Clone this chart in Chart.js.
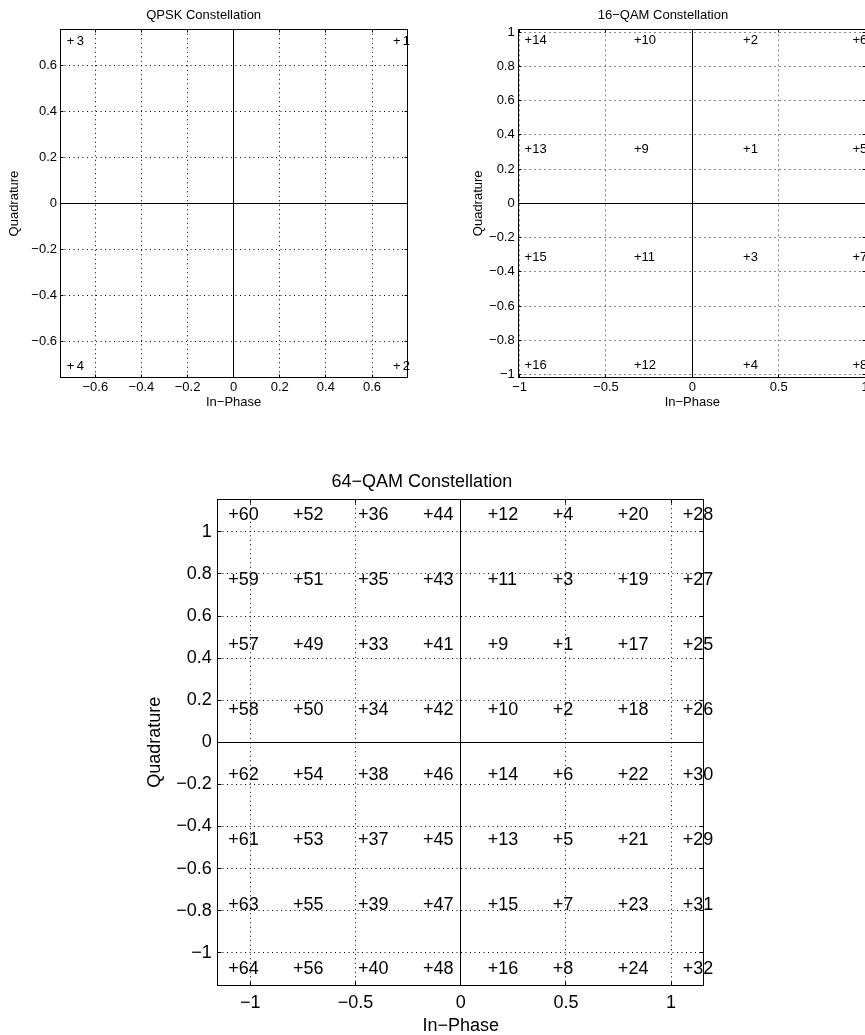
<!DOCTYPE html>
<html>
<head>
<meta charset="utf-8">
<script src="https://cdn.jsdelivr.net/npm/chart.js@4.4.1/dist/chart.umd.min.js"></script>
<style>
  html, body { margin: 0; padding: 0; background: #fff; }
  #page { position: relative; width: 865px; height: 1035px; overflow: hidden; background: #fff; }
  canvas { position: absolute; }
</style>
</head>
<body>
<div id="page">
  <canvas id="qpsk" width="420" height="415" style="left:0px;top:0px"></canvas>
  <canvas id="qam16" width="420" height="415" style="left:460px;top:0px"></canvas>
  <canvas id="qam64" width="600" height="580" style="left:140px;top:460px"></canvas>
</div>
<script>
// symbol k sits at (I[k-1], Q[k-1]); the label drawn is "+k"
var qpskI = [0.707, 0.707, -0.707, -0.707];
var qpskQ = [0.707, -0.707, 0.707, -0.707];
var qpskTicks = [-0.6, -0.4, -0.2, 0, 0.2, 0.4, 0.6];

var qam16I = [0.316, 0.316, 0.316, 0.316, 0.949, 0.949, 0.949, 0.949,
              -0.316, -0.316, -0.316, -0.316, -0.949, -0.949, -0.949, -0.949];
var qam16Q = [0.316, 0.949, -0.316, -0.949, 0.316, 0.949, -0.316, -0.949,
              0.316, 0.949, -0.316, -0.949, 0.316, 0.949, -0.316, -0.949];
var qam16XTicks = [-1, -0.5, 0, 0.5, 1];
var qam16YTicks = [-1, -0.8, -0.6, -0.4, -0.2, 0, 0.2, 0.4, 0.6, 0.8, 1];

var qam64I = [0.463, 0.463, 0.463, 0.463, 0.463, 0.463, 0.463, 0.463,
              0.154, 0.154, 0.154, 0.154, 0.154, 0.154, 0.154, 0.154,
              0.772, 0.772, 0.772, 0.772, 0.772, 0.772, 0.772, 0.772,
              1.080, 1.080, 1.080, 1.080, 1.080, 1.080, 1.080, 1.080,
              -0.463, -0.463, -0.463, -0.463, -0.463, -0.463, -0.463, -0.463,
              -0.154, -0.154, -0.154, -0.154, -0.154, -0.154, -0.154, -0.154,
              -0.772, -0.772, -0.772, -0.772, -0.772, -0.772, -0.772, -0.772,
              -1.080, -1.080, -1.080, -1.080, -1.080, -1.080, -1.080, -1.080];
var qam64Q = [0.463, 0.154, 0.772, 1.080, -0.463, -0.154, -0.772, -1.080,
              0.463, 0.154, 0.772, 1.080, -0.463, -0.154, -0.772, -1.080,
              0.463, 0.154, 0.772, 1.080, -0.463, -0.154, -0.772, -1.080,
              0.463, 0.154, 0.772, 1.080, -0.463, -0.154, -0.772, -1.080,
              0.463, 0.154, 0.772, 1.080, -0.463, -0.154, -0.772, -1.080,
              0.463, 0.154, 0.772, 1.080, -0.463, -0.154, -0.772, -1.080,
              0.463, 0.154, 0.772, 1.080, -0.463, -0.154, -0.772, -1.080,
              0.463, 0.154, 0.772, 1.080, -0.463, -0.154, -0.772, -1.080];
var qam64XTicks = [-1, -0.5, 0, 0.5, 1];
var qam64YTicks = [-1, -0.8, -0.6, -0.4, -0.2, 0, 0.2, 0.4, 0.6, 0.8, 1];

var FONT = '"Liberation Sans", Arial, Helvetica, sans-serif';
Chart.defaults.font.family = FONT;
Chart.defaults.color = '#000';

function fmt(v) {
    return String(+v.toFixed(2)).replace('-', '\u2212');
}

// "+k" text, the plus centred on the point the scales computed
var symbolLabels = {
    id: 'symbolLabels',
    afterDatasetsDraw: function(chart, args, o) {
        var ctx = chart.ctx;
        ctx.save();
        ctx.font = o.size + 'px ' + FONT;
        ctx.fillStyle = '#000';
        ctx.textBaseline = 'middle';
        ctx.textAlign = 'left';
        var w = ctx.measureText('+').width;
        chart.getDatasetMeta(0).data.forEach(function(pt, k) {
            ctx.fillText('+', pt.x - w / 2, pt.y);
            ctx.fillText(String(k + 1), pt.x + w / 2 + o.gap, pt.y);
        });
        ctx.restore();
    }
};

// matlab style closed box with inward tick marks
var axesBox = {
    id: 'axesBox',
    afterDatasetsDraw: function(chart, args, o) {
        var ctx = chart.ctx, a = chart.chartArea;
        var l = Math.floor(a.left) + 0.5, r = Math.floor(a.right) + 0.5;
        var t = Math.floor(a.top) + 0.5, b = Math.floor(a.bottom) + 0.5;
        ctx.save();
        ctx.strokeStyle = '#000';
        ctx.lineWidth = 1;
        ctx.beginPath();
        chart.scales.x.ticks.forEach(function(tk) {
            var p = Math.round(chart.scales.x.getPixelForValue(tk.value) - 0.5) + 0.5;
            ctx.moveTo(p, b); ctx.lineTo(p, b - o.len);
            ctx.moveTo(p, t); ctx.lineTo(p, t + o.len);
        });
        chart.scales.y.ticks.forEach(function(tk) {
            var p = Math.round(chart.scales.y.getPixelForValue(tk.value) - 0.5) + 0.5;
            ctx.moveTo(l, p); ctx.lineTo(l + o.len, p);
            ctx.moveTo(r, p); ctx.lineTo(r - o.len, p);
        });
        ctx.stroke();
        ctx.strokeRect(l, t, r - l, b - t);
        ctx.restore();
    }
};

function axis(o) {
    return {
        type: 'linear',
        position: o.position,
        min: o.min,
        max: o.max,
        afterBuildTicks: function(s) {
            s.ticks = o.ticks.map(function(v) { return { value: v }; });
        },
        afterFit: function(s) {
            if (s.isHorizontal()) s.height = o.size; else s.width = o.size;
        },
        ticks: {
            padding: o.tickPad,
            color: '#000',
            autoSkip: false,
            maxRotation: 0,
            font: { size: o.fs },
            callback: function(v) { return fmt(v); }
        },
        grid: {
            drawTicks: false,
            lineWidth: 1,
            color: function(c) { return c.tick && c.tick.value === 0 ? '#000' : o.gridColor; }
        },
        border: {
            display: false,
            dash: function(c) { return c.tick && c.tick.value === 0 ? [] : o.dash; }
        },
        title: {
            display: true,
            text: o.title,
            color: '#000',
            font: { size: o.fs },
            padding: o.titlePad
        }
    };
}

function constellation(id, c) {
    return new Chart(document.getElementById(id), {
        type: 'scatter',
        data: {
            datasets: [{
                data: c.i.map(function(v, k) { return { x: v, y: c.q[k] }; }),
                pointRadius: 0,
                pointHoverRadius: 0
            }]
        },
        options: {
            responsive: false,
            animation: false,
            devicePixelRatio: 1,
            events: [],
            layout: { padding: c.pad },
            plugins: {
                legend: { display: false },
                tooltip: { enabled: false },
                title: {
                    display: true,
                    text: c.title,
                    color: '#000',
                    font: { size: c.fs, weight: 'normal' },
                    padding: c.titlePad
                },
                symbolLabels: { size: c.fs, gap: c.labelGap },
                axesBox: { len: c.tickLen }
            },
            scales: {
                x: axis({ position: 'bottom', min: -c.xl, max: c.xl, ticks: c.xTicks, size: c.xh,
                          tickPad: c.xTickPad, fs: c.fs, gridColor: c.gridColor, dash: c.dash,
                          title: 'In\u2212Phase', titlePad: { top: 0, bottom: c.xTitlePad } }),
                y: axis({ position: 'left', min: -c.yl, max: c.yl, ticks: c.yTicks, size: c.yw,
                          tickPad: c.yTickPad, fs: c.fs, gridColor: c.gridColor, dash: c.dash,
                          title: 'Quadrature', titlePad: { top: c.yTitlePad, bottom: 0 } })
            }
        },
        plugins: [symbolLabels, axesBox]
    });
}

constellation('qpsk', {
    i: qpskI, q: qpskQ, xTicks: qpskTicks, yTicks: qpskTicks,
    title: 'QPSK Constellation', fs: 13, xl: 0.753, yl: 0.758,
    pad: { left: 0, top: 0, right: 12.7, bottom: 0 },
    titlePad: { top: 7.7, bottom: 6.0 },
    yw: 60, yTickPad: 3, yTitlePad: 6.2,
    xh: 37.2, xTickPad: 1.4, xTitlePad: 5.2,
    gridColor: '#000', dash: [1, 3.5], tickLen: 3, labelGap: 2.3
});

constellation('qam16', {
    i: qam16I, q: qam16Q, xTicks: qam16XTicks, yTicks: qam16YTicks,
    title: '16\u2212QAM Constellation', fs: 13, xl: 1.005, yl: 1.016,
    pad: { left: 0, top: 0, right: 14.1, bottom: 0 },
    titlePad: { top: 7.7, bottom: 6.0 },
    yw: 58.7, yTickPad: 4, yTitlePad: 10.2,
    xh: 37.7, xTickPad: 1.9, xTitlePad: 5.2,
    gridColor: '#888', dash: [2, 3], tickLen: 3, labelGap: 0
});

constellation('qam64', {
    i: qam64I, q: qam64Q, xTicks: qam64XTicks, yTicks: qam64YTicks,
    title: '64\u2212QAM Constellation', fs: 18, xl: 1.155, yl: 1.155,
    pad: { left: 0, top: 0, right: 36.3, bottom: 0 },
    titlePad: { top: 11.2, bottom: 6.5 },
    yw: 77.7, yTickPad: 6, yTitlePad: 4.2,
    xh: 54.7, xTickPad: 7.3, xTitlePad: 3.6,
    gridColor: '#000', dash: [1, 3.5], tickLen: 4, labelGap: 0
});
</script>
</body>
</html>
